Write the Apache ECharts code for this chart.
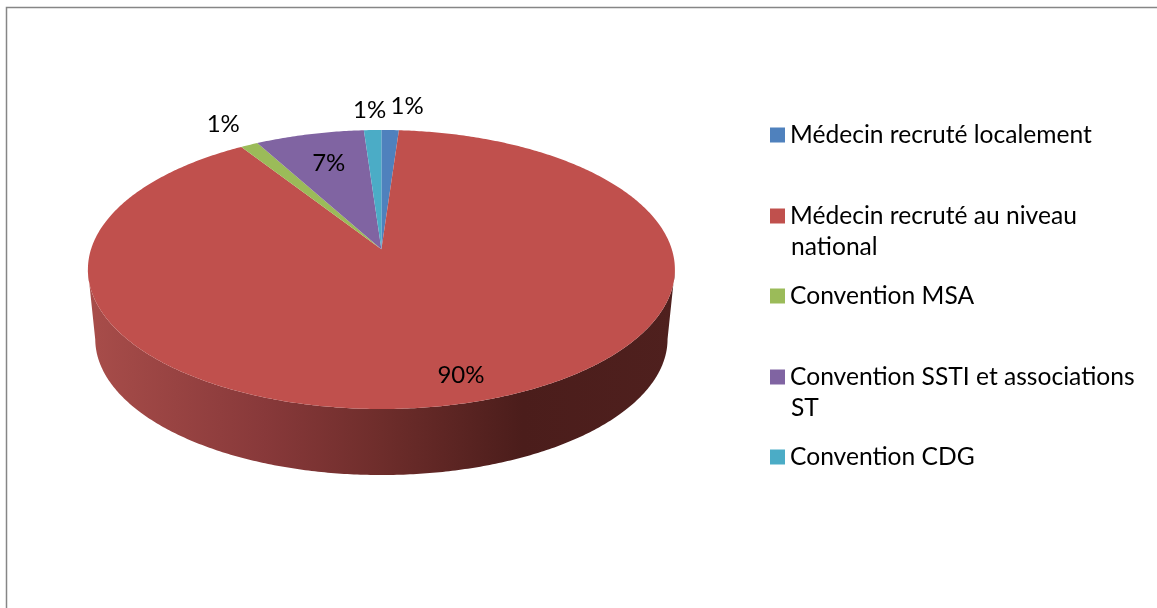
<!DOCTYPE html>
<html><head><meta charset="utf-8">
<style>html,body{margin:0;padding:0;background:#fff}#c{width:1157px;height:608px}</style>
<script src="https://cdn.jsdelivr.net/npm/echarts@6/dist/echarts.min.js"></script>
</head><body><div id="c"></div>
<script>
const categories = ['Médecin recruté localement','Médecin recruté au niveau national','Convention MSA','Convention SSTI et associations ST','Convention CDG'];
const values = [1.1, 89.8, 1.1, 6.9, 1.1];
const colors = ['#4F81BD','#C0504D','#9BBB59','#8064A2','#4BACC6'];
const legendFirstLines = ['Médecin recruté localement','Médecin recruté au niveau','Convention MSA','Convention SSTI et associations','Convention CDG'];
const legendSecondLines = ['', 'national', '', 'ST', ''];
const legendTops = [119, 200, 280, 361, 441];

// perspective pie geometry
const apex = [381.4, 249.3], K = 0.1448, A = 290.4, B = 136.6;
const wallScale = 0.975, topCy = 269.5, botCy = 339;
// label placement relative to the projected slice mid-point
const labelRadius = [1, 0.75, 1, 0.75, 1];
const labelShift = [[17,-24],[19,15],[-26,-21],[3,3],[-3,-20]];
const FONT = 'Lato, "Open Sans", sans-serif';
const total = values.reduce((a,b)=>a+b,0);
function project(theta, r){
  const X = r*Math.sin(theta), Y = r*Math.cos(theta), w = 1 + K*Y;
  return [apex[0] + A*X/w, apex[1] - B*Y/w];
}
function lower(p){ return [apex[0] + (p[0]-apex[0])*wallScale, botCy + (p[1]-topCy)*wallScale]; }

function renderSlice(idx){
  return function(params, api){
    let before = 0; for(let i=0;i<idx;i++) before += values[i];
    const v = api.value(0);
    const a0 = before/total*2*Math.PI, a1 = (before+v)/total*2*Math.PI;
    const n = Math.max(4, Math.ceil((a1-a0)/0.01));
    const face = [apex.slice()];
    const front = [];
    for(let j=0;j<=n;j++){
      const t = a0+(a1-a0)*j/n;
      face.push(project(t,1));
      if(Math.cos(t) <= -K) front.push(project(t,1));
    }
    const children = [];
    if(front.length>1){
      const wall = front.concat(front.slice().reverse().map(lower));
      children.push({type:'polygon', z2:1, shape:{points:wall}, style:{fill:{
        type:'linear', x:88, y:0, x2:675, y2:0, global:true,
        colorStops:[{offset:0,color:'#A84D4A'},{offset:0.3,color:'#88393A'},{offset:0.5,color:'#6E2D2B'},{offset:0.74,color:'#4B1D1B'},{offset:1,color:'#4F201E'}]
      }}});
    }
    children.push({type:'polygon', z2:2, shape:{points:face}, style:{fill:colors[idx]}});
    const mid = (a0+a1)/2, lp = project(mid,labelRadius[idx]);
    children.push({type:'text', z2:5, style:{text:Math.round(v)+'%', x:lp[0]+labelShift[idx][0], y:lp[1]+labelShift[idx][1],
      align:'center', verticalAlign:'middle', font:'24px '+FONT, fill:'#000'}});
    return {type:'group', children};
  };
}

const chart = echarts.init(document.getElementById('c'), null, {renderer:'canvas'});
chart.setOption({
  animation:false,
  backgroundColor:'#fff',
  legend: categories.map((c,i)=>({
    data:[c], left:770, top:legendTops[i], orient:'vertical', padding:0,
    icon:'rect', itemWidth:15, itemHeight:15, itemGap:0, selectedMode:false,
    formatter:()=>legendFirstLines[i],
    textStyle:{fontFamily:FONT, fontSize:24.6, color:'#000', padding:[0,0,0,0], lineHeight:32}
  })),
  graphic:[
    {type:'polyline', silent:true, shape:{points:[[6.5,608],[6.5,7.5],[1157,7.5]]}, style:{stroke:'#868686', lineWidth:1.5, fill:null}},
    ...legendSecondLines.map((t,i)=>t?({type:'text', silent:true, left:791, top:legendTops[i]+35, style:{text:t, font:'24.6px '+FONT, fill:'#000'}}):null).filter(Boolean)
  ],
  series: categories.map((c,i)=>({
    type:'custom', name:c, coordinateSystem:'none', data:[values[i]], color:colors[i],
    itemStyle:{color:colors[i]}, renderItem:renderSlice(i), silent:true, clip:false, encode:{value:0}
  }))
});
</script></body></html>
